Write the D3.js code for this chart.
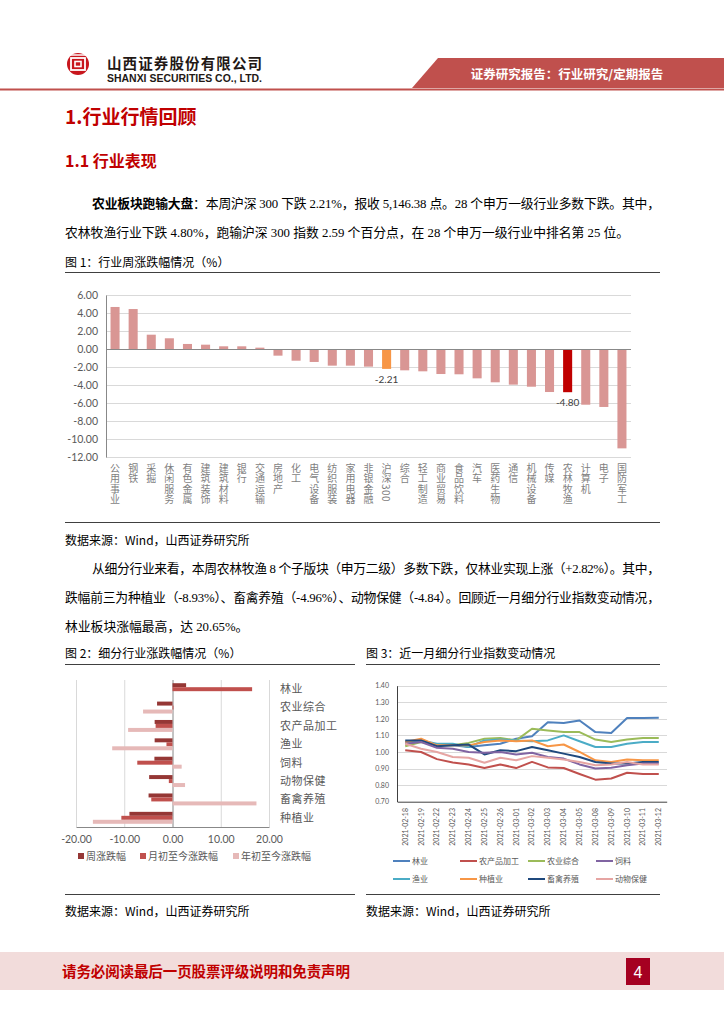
<!DOCTYPE html>
<html><head><meta charset="utf-8">
<script src="https://cdn.jsdelivr.net/npm/d3@7"></script>
<style>body{margin:0;background:#fff}svg{display:block}</style>
</head><body>
<svg id="page" width="724" height="1024"></svg>
<script>
// ---------- DATA ----------
const industries = ["公用事业","钢铁","采掘","休闲服务","有色金属","建筑装饰","建筑材料","银行","交通运输","房地产","化工","电气设备","纺织服装","家用电器","非银金融","沪深300","综合","轻工制造","商业贸易","食品饮料","汽车","医药生物","通信","机械设备","传媒","农林牧渔","计算机","电子","国防军工"];
const weeklyChange = [4.67,4.44,1.59,1.19,0.56,0.48,0.30,0.30,0.15,-0.74,-1.30,-1.44,-1.85,-1.85,-1.96,-2.21,-2.37,-2.48,-2.78,-2.81,-3.26,-3.70,-3.96,-4.19,-4.78,-4.80,-6.19,-6.44,-11.04];
const yTicks1 = [6,4,2,0,-2,-4,-6,-8,-10,-12];

const subIndustries = ["林业","农业综合","农产品加工","渔业","饲料","动物保健","畜禽养殖","种植业"];
const subSeriesNames = ["周涨跌幅","月初至今涨跌幅","年初至今涨跌幅"];
const subWeek = [2.82,-3.2,-3.7,-3.7,-3.75,-4.84,-4.96,-8.93];
const subMonth = [16.5,0.2,-3.5,-1.25,-7.3,-0.76,-4.4,-10.6];
const subYear = [0,-6.1,-9.2,-12.5,1.9,2.6,17.4,-16.5];
const xTicks2 = [-20,-10,0,10,20];

const dates = ["2021-02-18","2021-02-19","2021-02-22","2021-02-23","2021-02-24","2021-02-25","2021-02-26","2021-03-01","2021-03-02","2021-03-03","2021-03-04","2021-03-05","2021-03-08","2021-03-09","2021-03-10","2021-03-11","2021-03-12"];
const lineNames = ["林业","农产品加工","农业综合","饲料","渔业","种植业","畜禽养殖","动物保健"];
const lin = [1.06,1.07,1.04,1.04,1.03,1.04,1.05,1.08,1.095,1.18,1.175,1.19,1.12,1.115,1.205,1.205,1.2065];
const nongchanpin = [1.01,1.00,0.957,0.937,0.925,0.903,0.925,0.903,0.94,0.907,0.903,0.867,0.833,0.84,0.875,0.867,0.867];
const nongyezonghe = [1.035,1.06,1.04,1.04,1.055,1.08,1.085,1.07,1.14,1.13,1.12,1.12,1.075,1.06,1.075,1.085,1.085];
const siliao = [1.05,1.06,1.025,1.02,1.0,0.995,1.0,0.985,0.995,0.97,0.96,0.925,0.90,0.905,0.92,0.93,0.93];
const yuye = [1.06,1.07,1.05,1.05,1.03,1.07,1.075,1.07,1.065,1.07,1.10,1.065,1.03,1.03,1.05,1.06,1.06];
const zhongzhi = [1.06,1.08,1.04,1.04,1.04,1.06,1.07,1.065,1.07,1.035,1.045,1.0,0.95,0.94,0.955,0.95,0.95];
const chuqin = [1.07,1.07,1.035,1.04,1.045,0.985,1.01,1.005,1.03,1.01,0.99,0.97,0.94,0.93,0.93,0.94,0.94];
const dongwu = [1.05,1.02,1.0,0.97,0.965,0.935,0.965,0.95,0.975,0.965,0.955,0.94,0.92,0.925,0.94,0.925,0.925];
const yTicks3 = [0.7,0.8,0.9,1.0,1.1,1.2,1.3,1.4];

// ---------- STYLES ----------
const SANS = "'Noto Sans CJK SC', 'Noto Sans', sans-serif";
const BODY = "'Liberation Serif', 'Noto Sans CJK SC', serif";
const NUM = "Lato, 'Noto Sans CJK SC', sans-serif";
const RED = "#C00000";
const svg = d3.select("#page");
svg.append("rect").attr("width",724).attr("height",1024).attr("fill","#fff");

// ---------- HEADER ----------
const hdr = svg.append("g");
hdr.append("polygon").attr("points","438,58 724,58 724,88 412,88").attr("fill","#C0504D");
hdr.append("line").attr("x1",0).attr("x2",724).attr("y1",89.5).attr("y2",89.5).attr("stroke","#C0504D").attr("stroke-width",2);
hdr.append("text").attr("x",567).attr("y",79).attr("text-anchor","middle").attr("fill","#fff")
  .attr("font-family",SANS).attr("font-weight","bold").attr("font-size",12.5).text("证券研究报告：行业研究/定期报告");
const lg = hdr.append("g").attr("transform","translate(78,64)");
lg.append("circle").attr("r",11).attr("fill","#C8161D");
lg.append("rect").attr("x",-7).attr("y",-6).attr("width",14).attr("height",12).attr("fill","none").attr("stroke","#fff").attr("stroke-width",1.8);
lg.append("rect").attr("x",-3).attr("y",-2.5).attr("width",6).attr("height",5).attr("fill","none").attr("stroke","#fff").attr("stroke-width",1.6);
lg.append("line").attr("x1",-11).attr("x2",11).attr("y1",-9).attr("y2",-9).attr("stroke","#fff").attr("stroke-width",1.5);
hdr.append("text").attr("x",107).attr("y",69).attr("font-family",SANS).attr("font-weight","bold").attr("font-size",14.5)
  .attr("fill","#231815").attr("textLength",155).attr("lengthAdjust","spacing").text("山西证券股份有限公司");
hdr.append("text").attr("x",107).attr("y",82).attr("font-family","'Liberation Sans', Arial, sans-serif").attr("font-weight","bold").attr("font-size",10)
  .attr("fill","#231815").attr("textLength",155).attr("lengthAdjust","spacingAndGlyphs").text("SHANXI SECURITIES CO., LTD.");

// ---------- HEADINGS & TEXT ----------
svg.append("text").attr("x",65).attr("y",124).attr("fill",RED).attr("font-family",SANS).attr("font-weight","bold").attr("font-size",19).text("1.行业行情回顾");
svg.append("text").attr("x",65).attr("y",167).attr("fill",RED).attr("font-family",SANS).attr("font-weight","bold").attr("font-size",16).text("1.1 行业表现");

function bodyLine(x,y,content,len){
  const t = svg.append("text").attr("x",x).attr("y",y).attr("font-family",BODY).attr("font-size",12.8).attr("fill","#000");
  if(len) t.attr("textLength",len).attr("lengthAdjust","spacing");
  content.forEach(c=>{ const s=t.append("tspan").text(c.t); if(c.b) s.attr("font-weight","bold").attr("font-family",SANS);});
}
bodyLine(92,208,[{t:"农业板块跑输大盘",b:true},{t:"：本周沪深 300 下跌 2.21%，报收 5,146.38 点。28 个申万一级行业多数下跌。其中，"}],568);
bodyLine(65,237,[{t:"农林牧渔行业下跌 4.80%，跑输沪深 300 指数 2.59 个百分点，在 28 个申万一级行业中排名第 25 位。"}]);
svg.append("text").attr("x",65).attr("y",267).attr("font-family",SANS).attr("font-size",12).attr("fill","#000").text("图 1：行业周涨跌幅情况（%）");
svg.append("line").attr("x1",65).attr("x2",660).attr("y1",272.5).attr("y2",272.5).attr("stroke","#404040").attr("stroke-width",1.2);
svg.append("line").attr("x1",65).attr("x2",660).attr("y1",522.5).attr("y2",522.5).attr("stroke","#404040").attr("stroke-width",1.2);
svg.append("text").attr("x",65).attr("y",545).attr("font-family",SANS).attr("font-size",12).attr("fill","#000").text("数据来源：Wind，山西证券研究所");

bodyLine(92,573,[{t:"从细分行业来看，本周农林牧渔 8 个子版块（申万二级）多数下跌，仅林业实现上涨（+2.82%）。其中，"}],568);
bodyLine(65,602,[{t:"跌幅前三为种植业（-8.93%）、畜禽养殖（-4.96%）、动物保健（-4.84）。回顾近一月细分行业指数变动情况，"}],595);
bodyLine(65,631,[{t:"林业板块涨幅最高，达 20.65%。"}]);

svg.append("text").attr("x",65).attr("y",658).attr("font-family",SANS).attr("font-size",12).attr("fill","#000").text("图 2：细分行业涨跌幅情况（%）");
svg.append("text").attr("x",366).attr("y",658).attr("font-family",SANS).attr("font-size",12).attr("fill","#000").text("图 3：近一月细分行业指数变动情况");
[[65,355],[366,660]].forEach(([a,b])=>{
  svg.append("line").attr("x1",a).attr("x2",b).attr("y1",664.5).attr("y2",664.5).attr("stroke","#404040").attr("stroke-width",1.2);
  svg.append("line").attr("x1",a).attr("x2",b).attr("y1",894.5).attr("y2",894.5).attr("stroke","#404040").attr("stroke-width",1.2);
  svg.append("text").attr("x",a).attr("y",916).attr("font-family",SANS).attr("font-size",12).attr("fill","#000").text("数据来源：Wind，山西证券研究所");
});

// ---------- FOOTER ----------
svg.append("rect").attr("x",0).attr("y",952).attr("width",724).attr("height",38).attr("fill","#F2DCDB");
svg.append("text").attr("x",62).attr("y",977).attr("font-family",SANS).attr("font-weight","bold").attr("font-size",14.5).attr("fill","#C00000")
  .attr("textLength",288).attr("lengthAdjust","spacing").text("请务必阅读最后一页股票评级说明和免责声明");
svg.append("rect").attr("x",626).attr("y",958).attr("width",24).attr("height",27).attr("fill","#A50021");
svg.append("text").attr("x",638).attr("y",978).attr("text-anchor","middle").attr("font-family","'Liberation Sans', Arial").attr("font-size",16).attr("fill","#fff").text("4");

// ---------- CHART 1 ----------
const c1 = svg.append("g");
const x1 = d3.scaleBand().domain(industries).range([106,631]).paddingInner(0.5).paddingOuter(0.25);
const y1 = d3.scaleLinear().domain([-12,6]).range([457,295]);
c1.selectAll("line.grid").data(yTicks1).join("line")
  .attr("x1",106).attr("x2",631).attr("y1",d=>y1(d)+0.5).attr("y2",d=>y1(d)+0.5)
  .attr("stroke","#D9D9D9").attr("stroke-width",1);
c1.selectAll("rect.bar").data(industries).join("rect")
  .attr("x",d=>x1(d)).attr("width",x1.bandwidth())
  .attr("y",(d,i)=>y1(Math.max(0,weeklyChange[i])))
  .attr("height",(d,i)=>Math.abs(y1(weeklyChange[i])-y1(0)))
  .attr("fill",d=>d==="沪深300"?"#F79646":(d==="农林牧渔"?"#C00000":"#D99694"));
c1.append("line").attr("x1",106).attr("x2",631).attr("y1",y1(0)+0.5).attr("y2",y1(0)+0.5).attr("stroke","#888").attr("stroke-width",1);
const ax1 = c1.append("g").attr("transform","translate(106,0)").call(d3.axisLeft(y1).tickValues(yTicks1).tickFormat(d=>d.toFixed(2)).tickSize(0).tickPadding(8));
ax1.select(".domain").attr("stroke","#888");
ax1.selectAll("text").attr("font-family",NUM).attr("font-size",10.5).attr("fill","#595959");
["沪深300","农林牧渔"].forEach(n=>{
  const i = industries.indexOf(n);
  c1.append("text").attr("x",x1(n)+x1.bandwidth()/2).attr("y",y1(weeklyChange[i])+14).attr("text-anchor","middle")
    .attr("font-family",NUM).attr("font-size",10).attr("fill","#404040").text(weeklyChange[i].toFixed(2));
});
c1.selectAll("text.xl").data(industries).join("text")
  .attr("x",d=>x1(d)+x1.bandwidth()/2).attr("y",463)
  .attr("font-family",SANS).attr("font-size",10).attr("fill","#7F7F7F")
  .style("writing-mode","vertical-rl").style("letter-spacing","0.5px")
  .text(d=>d);

// ---------- CHART 2 ----------
const c2 = svg.append("g");
const x2 = d3.scaleLinear().domain([-20,20]).range([76,269]);
const yb2 = d3.scaleBand().domain(subIndustries).range([680,827]).paddingInner(0.35).paddingOuter(0.175);
const ys2 = d3.scaleBand().domain(subSeriesNames).range([0,yb2.bandwidth()]);
const col2 = ["#953735","#C0504D","#E6B9B8"];
c2.selectAll("line.g2").data(xTicks2).join("line")
  .attr("x1",d=>x2(d)+0.5).attr("x2",d=>x2(d)+0.5).attr("y1",680).attr("y2",827)
  .attr("stroke",d=>d===0?"#888":"#D9D9D9");
const vals2 = [subWeek,subMonth,subYear];
subSeriesNames.forEach((s,si)=>{
  c2.selectAll("rect.s"+si).data(subIndustries).join("rect")
    .attr("y",d=>yb2(d)+ys2(s)).attr("height",ys2.bandwidth())
    .attr("x",(d,i)=>x2(Math.min(0,vals2[si][i])))
    .attr("width",(d,i)=>Math.abs(x2(vals2[si][i])-x2(0)))
    .attr("fill",col2[si]);
});
const ax2 = c2.append("g").attr("transform","translate(0,827)").call(d3.axisBottom(x2).tickValues(xTicks2).tickFormat(d=>d.toFixed(2)).tickSize(0).tickPadding(9));
ax2.select(".domain").attr("stroke","#888");
ax2.selectAll("text").attr("font-family",NUM).attr("font-size",10.5).attr("fill","#595959");
c2.selectAll("text.cl").data(subIndustries).join("text")
  .attr("x",280).attr("y",d=>yb2(d)+yb2.bandwidth()/2).attr("dy","0.35em")
  .attr("font-family",SANS).attr("font-size",11).attr("fill","#595959").style("letter-spacing","0.5px").text(d=>d);
const lgx2 = [78,140,233];
subSeriesNames.forEach((s,i)=>{
  c2.append("rect").attr("x",lgx2[i]).attr("y",853).attr("width",6).attr("height",6).attr("fill",col2[i]);
  c2.append("text").attr("x",lgx2[i]+8).attr("y",860).attr("font-family",SANS).attr("font-size",10).attr("fill","#595959").text(s);
});

// ---------- CHART 3 ----------
const c3 = svg.append("g");
const x3 = d3.scalePoint().domain(dates).range([397.3,666.7]).padding(0.5);
const y3 = d3.scaleLinear().domain([0.7,1.4]).range([801.7,685.7]);
c3.selectAll("line.g3").data(yTicks3.slice(1)).join("line")
  .attr("x1",397).attr("x2",667).attr("y1",d=>Math.round(y3(d))+0.5).attr("y2",d=>Math.round(y3(d))+0.5).attr("stroke","#D9D9D9");
const lineSeries = [lin,nongchanpin,nongyezonghe,siliao,yuye,zhongzhi,chuqin,dongwu];
const col3 = ["#4F81BD","#C0504D","#9BBB59","#8064A2","#4BACC6","#F79646","#1F497D","#E6A5A3"];
const drawOrder = [0,2,4,5,6,3,7,1];
const lineGen = d3.line().x((d,i)=>x3(dates[i])).y(d=>y3(d));
drawOrder.forEach(k=>{
  c3.append("path").datum(lineSeries[k]).attr("d",lineGen).attr("fill","none").attr("stroke",col3[k]).attr("stroke-width",2).attr("stroke-linejoin","round");
});
const ax3y = c3.append("g").attr("transform","translate(397,0)").call(d3.axisLeft(y3).tickValues(yTicks3).tickFormat(d=>d.toFixed(2)).tickSize(0).tickPadding(8));
ax3y.select(".domain").attr("stroke","#404040");
ax3y.selectAll("text").attr("font-family",NUM).attr("font-size",7).attr("fill","#595959");
const ax3x = c3.append("g").attr("transform","translate(0,801.7)").call(d3.axisBottom(x3).tickSize(0).tickFormat(""));
ax3x.select(".domain").attr("stroke","#404040");
c3.selectAll("text.dl").data(dates).join("text")
  .attr("transform",d=>`translate(${x3(d)},808) rotate(-90)`).attr("text-anchor","end").attr("dy","0.35em")
  .attr("font-family",NUM).attr("font-size",7).attr("fill","#595959").text(d=>d);
const lgPos = [[393,861],[460,861],[528,861],[596,861],[393,879],[460,879],[528,879],[596,879]];
lineNames.forEach((n,i)=>{
  const [lx,ly] = lgPos[i];
  c3.append("line").attr("x1",lx).attr("x2",lx+17).attr("y1",ly).attr("y2",ly).attr("stroke",col3[i]).attr("stroke-width",2);
  c3.append("text").attr("x",lx+19).attr("y",ly).attr("dy","0.35em").attr("font-family",SANS).attr("font-size",8).attr("fill","#595959").text(n);
});
</script></body></html>
